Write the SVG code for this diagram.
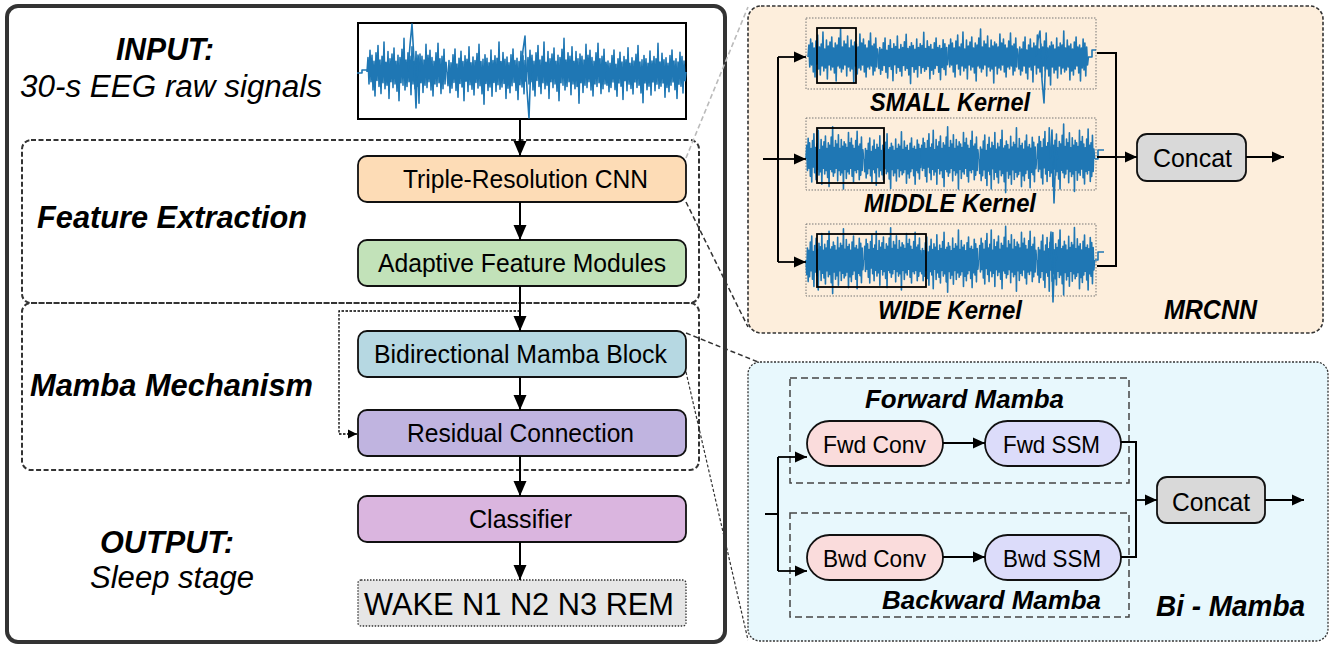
<svg xmlns="http://www.w3.org/2000/svg" xmlns:xlink="http://www.w3.org/1999/xlink" width="1335" height="648" viewBox="0 0 1335 648">
<defs>
<style>
text{font-family:"Liberation Sans",Arial,sans-serif;fill:#000}
.bi{font-weight:bold;font-style:italic}
.it{font-style:italic}
.box{stroke:#111;stroke-width:1.8}
.eeg{fill:none;stroke:#1f77b4;stroke-width:1.6;stroke-linejoin:round}
.ln{fill:none;stroke:#000;stroke-width:2}
.ar{fill:none;stroke:#000;stroke-width:2;marker-end:url(#ah)}
.ars{fill:none;stroke:#000;stroke-width:1.8;marker-end:url(#ahs)}
.dsh{fill:none;stroke:#333;stroke-width:2;stroke-dasharray:5,2.5}
.sub{fill:none;stroke:#777;stroke-width:1;stroke-dasharray:1.5,1.5}
.win{fill:none;stroke:#000;stroke-width:1.8}
</style>
<marker id="ah" markerUnits="userSpaceOnUse" markerWidth="16" markerHeight="16" viewBox="0 0 16 16" refX="15" refY="8" orient="auto"><path d="M0,1.5 L15,8 L0,14.5 z" fill="#000"/></marker>
<marker id="ahs" markerUnits="userSpaceOnUse" markerWidth="13" markerHeight="13" viewBox="0 0 13 13" refX="12" refY="6.5" orient="auto"><path d="M0,1 L12,6.5 L0,12 z" fill="#000"/></marker>
<marker id="ahd" markerUnits="userSpaceOnUse" markerWidth="10" markerHeight="10" viewBox="0 0 10 10" refX="9" refY="5" orient="auto"><path d="M0,0.5 L9,5 L0,9.5 z" fill="#000"/></marker>
<path id="sig" vector-effect="non-scaling-stroke" d="M0,0 L2,-12 4,10 6,-18 8,8 10,-14 12,15 14,-9 16,20 18,-16 20,7 22,-22 24,12 26,-10 28,18 30,-13 32,9 34,-25 36,14 38,-8 40,11 42,-17 44,22 46,-11 48,8 50,-15 52,13 54,-20 56,10 58,-9 60,16 62,-14 64,24 66,-12 68,9 70,-19 72,11 74,-28 76,15 78,-10 80,12 82,-16 84,8 86,-13 88,19 90,-21 92,10 94,-9 96,14 98,-17 100,12 102,-11 104,26 106,-15 108,9 110,-13 112,17 114,-10 116,11 118,-23 120,13 122,-14 124,8 126,-18 128,15 130,-12 132,20 134,-9 136,10 138,-16 140,12 142,-24 144,9 146,-11 148,18 150,-13 152,14 154,-19 156,10 158,-8 160,0"/>
</defs>
<rect width="1335" height="648" fill="#fff"/>

<!-- left main panel -->
<rect x="7" y="6" width="718" height="636" rx="11" fill="#fff" stroke="#333" stroke-width="4"/>
<rect id="feature-extraction-group" x="22" y="140" width="677" height="163" rx="9" class="dsh"/>
<rect id="mamba-mechanism-group" x="22" y="303" width="677" height="167" rx="9" class="dsh"/>

<g id="left-labels">
<text class="bi" x="116" y="60" font-size="31" textLength="98" lengthAdjust="spacingAndGlyphs">INPUT:</text>
<text class="it" x="20" y="97" font-size="31" textLength="302" lengthAdjust="spacingAndGlyphs">30-s EEG raw signals</text>
<text class="bi" x="37" y="228" font-size="31" textLength="270" lengthAdjust="spacingAndGlyphs">Feature Extraction</text>
<text class="bi" x="30" y="396" font-size="31" textLength="283" lengthAdjust="spacingAndGlyphs">Mamba Mechanism</text>
<text class="bi" x="100" y="553" font-size="31" textLength="134" lengthAdjust="spacingAndGlyphs">OUTPUT:</text>
<text class="it" x="90" y="588" font-size="31" textLength="164" lengthAdjust="spacingAndGlyphs">Sleep stage</text>
</g>

<g id="input-signal">
<rect x="358" y="23" width="328" height="96" fill="#fff" stroke="#000" stroke-width="2"/>
<path class="eeg" d="M357,73 L362,73 362,70 367,70"/>
<use href="#sig" class="eeg" transform="translate(367,72) scale(0.5,1.2)"/>
<use href="#sig" class="eeg" transform="translate(447,72) scale(0.5,-1.15)"/>
<use href="#sig" class="eeg" transform="translate(527,72) scale(0.5,1.2)"/>
<use href="#sig" class="eeg" transform="translate(606,72) scale(0.5,-1.1)"/>
<path class="eeg" d="M408,72 L410,45 412,24 414,60 416,108 418,55 420,72 M521,72 523,50 525,36 527,90 529,118 531,60 533,72"/>
</g>

<g id="triple-resolution-cnn">
<rect class="box" x="358" y="156" width="328" height="46" rx="9" fill="#fddcb6"/>
<text x="403" y="188" font-size="25" textLength="245" lengthAdjust="spacingAndGlyphs">Triple-Resolution CNN</text>
</g>
<g id="adaptive-feature-modules">
<rect class="box" x="358" y="240" width="328" height="46" rx="9" fill="#c2e2b9"/>
<text x="378" y="272" font-size="25" textLength="288" lengthAdjust="spacingAndGlyphs">Adaptive Feature Modules</text>
</g>
<g id="bidirectional-mamba-block">
<rect class="box" x="358" y="331" width="328" height="46" rx="9" fill="#b6d8e2"/>
<text x="374" y="363" font-size="25" textLength="293" lengthAdjust="spacingAndGlyphs">Bidirectional Mamba Block</text>
</g>
<g id="residual-connection">
<rect class="box" x="358" y="410" width="328" height="46" rx="9" fill="#c0b4e0"/>
<text x="407" y="442" font-size="25" textLength="227" lengthAdjust="spacingAndGlyphs">Residual Connection</text>
</g>
<g id="classifier">
<rect class="box" x="358" y="496" width="328" height="46" rx="9" fill="#dab5df"/>
<text x="469" y="528" font-size="25" textLength="103" lengthAdjust="spacingAndGlyphs">Classifier</text>
</g>
<g id="sleep-stages">
<rect x="358" y="580" width="328" height="46" rx="3" fill="#e6e6e6" stroke="#333" stroke-width="1.3" stroke-dasharray="1.5,1.5"/>
<text x="364" y="615" font-size="32" textLength="310" lengthAdjust="spacingAndGlyphs">WAKE N1 N2 N3 REM</text>
</g>

<!-- MRCNN panel -->
<g id="mrcnn">
<rect x="748" y="6" width="575" height="327" rx="13" fill="#fdeedc" stroke="#333" stroke-width="1.6" stroke-dasharray="3.5,2"/>
<rect class="sub" x="806" y="18" width="290" height="71"/>
<rect class="sub" x="806" y="118" width="290" height="72"/>
<rect class="sub" x="806" y="224" width="290" height="72"/>
<use href="#sig" class="eeg" transform="translate(808,57) scale(0.44,1.0)"/>
<use href="#sig" class="eeg" transform="translate(878,57) scale(0.44,-0.95)"/>
<use href="#sig" class="eeg" transform="translate(948,57) scale(0.44,1.0)"/>
<use href="#sig" class="eeg" transform="translate(1018,57) scale(0.44,-1.0)"/>
<path class="eeg" d="M1036,57 L1038,40 1040,31 1042,80 1044,103 1046,50 1048,57 M1088,57 1092,57 1092,50 1096,50"/>
<use href="#sig" class="eeg" transform="translate(806,159) scale(0.36,1.15)"/>
<use href="#sig" class="eeg" transform="translate(864,159) scale(0.36,-1.05)"/>
<use href="#sig" class="eeg" transform="translate(921,159) scale(0.36,1.15)"/>
<use href="#sig" class="eeg" transform="translate(979,159) scale(0.36,-1.2)"/>
<use href="#sig" class="eeg" transform="translate(1037,159) scale(0.36,1.25)"/>
<path class="eeg" d="M1050,159 L1052,130 1054,203 1056,150 1058,159 M1095,159 1098,159 1098,150 1104,150"/>
<use href="#sig" class="eeg" transform="translate(806,260) scale(0.36,-1.2)"/>
<use href="#sig" class="eeg" transform="translate(864,260) scale(0.36,1.15)"/>
<use href="#sig" class="eeg" transform="translate(921,260) scale(0.36,-1.15)"/>
<use href="#sig" class="eeg" transform="translate(979,260) scale(0.36,1.2)"/>
<use href="#sig" class="eeg" transform="translate(1037,260) scale(0.36,-1.25)"/>
<path class="eeg" d="M1049,260 L1051,232 1053,302 1055,250 1057,260 M1095,260 1098,260 1098,252 1104,252"/>
<rect class="win" x="817" y="28" width="39" height="55"/>
<rect class="win" x="817" y="128" width="67" height="55"/>
<rect class="win" x="817" y="234" width="109" height="53"/>
<text class="bi" x="870" y="111" font-size="25" textLength="160" lengthAdjust="spacingAndGlyphs">SMALL Kernel</text>
<text class="bi" x="864" y="212" font-size="25" textLength="172" lengthAdjust="spacingAndGlyphs">MIDDLE Kernel</text>
<text class="bi" x="878" y="319" font-size="25" textLength="144" lengthAdjust="spacingAndGlyphs">WIDE Kernel</text>
<text class="bi" x="1164" y="319" font-size="27" textLength="93" lengthAdjust="spacingAndGlyphs">MRCNN</text>
</g>
<g id="mrcnn-concat">
<rect class="box" x="1137" y="134" width="109" height="47" rx="10" fill="#d9d9d9"/>
<text x="1153" y="167" font-size="26" textLength="79" lengthAdjust="spacingAndGlyphs">Concat</text>
</g>

<!-- Bi-Mamba panel -->
<g id="bi-mamba">
<rect x="748" y="362" width="580" height="279" rx="12" fill="#e8f8fd" stroke="#333" stroke-width="1.3" stroke-dasharray="2,1.5"/>
<rect x="790" y="378" width="339" height="105" fill="none" stroke="#444" stroke-width="1.5" stroke-dasharray="7,4"/>
<rect x="790" y="513" width="339" height="104" fill="none" stroke="#444" stroke-width="1.5" stroke-dasharray="7,4"/>
<text class="bi" x="865" y="408" font-size="26" textLength="199" lengthAdjust="spacingAndGlyphs">Forward Mamba</text>
<text class="bi" x="882" y="609" font-size="26" textLength="219" lengthAdjust="spacingAndGlyphs">Backward Mamba</text>
<text class="bi" x="1156" y="616" font-size="30" textLength="149" lengthAdjust="spacingAndGlyphs">Bi - Mamba</text>
</g>
<g id="fwd-conv">
<rect class="box" x="807" y="421" width="136" height="45" rx="22.5" fill="#fadcdc"/>
<text x="823" y="453" font-size="24" textLength="103" lengthAdjust="spacingAndGlyphs">Fwd Conv</text>
</g>
<g id="fwd-ssm">
<rect class="box" x="985" y="421" width="136" height="45" rx="22.5" fill="#dcdcfa"/>
<text x="1003" y="453" font-size="24" textLength="97" lengthAdjust="spacingAndGlyphs">Fwd SSM</text>
</g>
<g id="bwd-conv">
<rect class="box" x="807" y="535" width="136" height="45" rx="22.5" fill="#fadcdc"/>
<text x="823" y="567" font-size="24" textLength="103" lengthAdjust="spacingAndGlyphs">Bwd Conv</text>
</g>
<g id="bwd-ssm">
<rect class="box" x="985" y="535" width="136" height="45" rx="22.5" fill="#dcdcfa"/>
<text x="1003" y="567" font-size="24" textLength="98" lengthAdjust="spacingAndGlyphs">Bwd SSM</text>
</g>
<g id="bimamba-concat">
<rect class="box" x="1157" y="477" width="108" height="46" rx="10" fill="#d9d9d9"/>
<text x="1172" y="511" font-size="26" textLength="78" lengthAdjust="spacingAndGlyphs">Concat</text>
</g>

<g id="connectors">
<path class="ar" d="M520,119 V156"/>
<path class="ar" d="M520,202 V240"/>
<path class="ar" d="M520,286 V331"/>
<path class="ar" d="M520,377 V410"/>
<path class="ar" d="M520,456 V496"/>
<path class="ar" d="M520,542 V580"/>
<path d="M520,311 H339 V434 H357" fill="none" stroke="#000" stroke-width="1.3" stroke-dasharray="2.5,1.5" marker-end="url(#ahd)"/>
<!-- zoom guides -->
<path d="M686,158 L748,7" fill="none" stroke="#bbb" stroke-width="1.6" stroke-dasharray="5,3"/>
<path d="M686,202 L748,327" fill="none" stroke="#333" stroke-width="1.5" stroke-dasharray="5,3"/>
<path d="M686,333 L758,362" fill="none" stroke="#333" stroke-width="1.5" stroke-dasharray="5,3"/>
<path d="M686,372 L748,640" fill="none" stroke="#333" stroke-width="1.2" stroke-dasharray="3,2"/>
<!-- MRCNN -->
<path class="ln" d="M763,159 H778 M778,57 V262"/>
<path class="ars" d="M778,57 H806"/>
<path class="ars" d="M778,159 H806"/>
<path class="ars" d="M778,262 H806"/>
<path class="ln" d="M1097,53 H1116 V266 H1097 M1097,157 H1116"/>
<path class="ars" d="M1116,157 H1137"/>
<path class="ars" d="M1246,157 H1284"/>
<!-- Bi-Mamba -->
<path class="ln" d="M765,514 H778 M778,457 V571"/>
<path class="ars" d="M778,457 H807"/>
<path class="ars" d="M778,571 H807"/>
<path class="ars" d="M943,443 H985"/>
<path class="ars" d="M943,557 H985"/>
<path class="ln" d="M1121,442 H1136 V557 H1121"/>
<path class="ars" d="M1136,500 H1157"/>
<path class="ars" d="M1265,500 H1304"/>
</g>
</svg>
